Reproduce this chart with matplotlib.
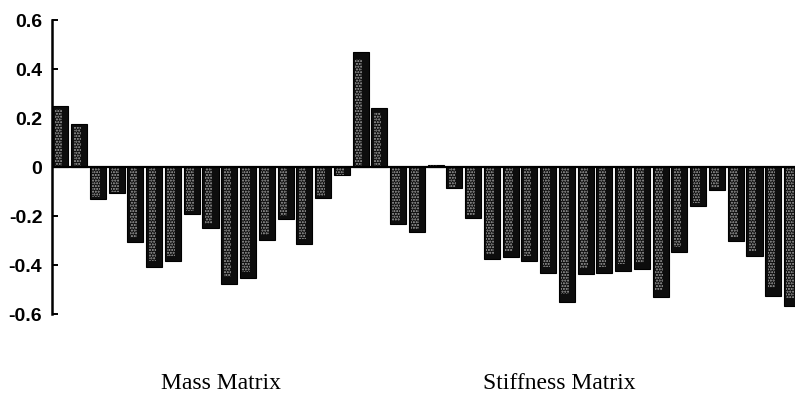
import matplotlib
matplotlib.use("Agg")
import matplotlib.pyplot as plt
import matplotlib.transforms as mtransforms
import numpy as np

# Coefficients for each matrix group
mass_values = [0.25, 0.175, -0.13, -0.107, -0.307, -0.407, -0.385, -0.192,
               -0.249, -0.478, -0.454, -0.297, -0.212, -0.314, -0.128, -0.033]
stiffness_values = [0.468, 0.24, -0.233, -0.267, 0.008, -0.086, -0.21, -0.376,
                    -0.366, -0.385, -0.434, -0.55, -0.437, -0.433, -0.423, -0.416,
                    -0.532, -0.346, -0.158, -0.093, -0.303, -0.365, -0.525, -0.569]
group_labels = ["Mass Matrix", "Stiffness Matrix"]
y_ticks = [0.6, 0.4, 0.2, 0.0, -0.2, -0.4, -0.6]
y_tick_labels = ["0.6", "0.4", "0.2", "0", "-0.2", "-0.4", "-0.6"]

values = np.array(mass_values + stiffness_values)
x = np.arange(len(values))

fig = plt.figure(figsize=(7.95, 3.94), dpi=100)
ax = fig.add_axes([0.0654, 0.203, 1.0 - 0.0654, 0.9492 - 0.203])

width = 0.855
# dark bars with a lighter stippled stripe inside
ax.bar(x, values, width=width, color="#0d0d0d", edgecolor="#000000",
       linewidth=0.8, zorder=2)
ax.bar(x - 0.1, values * 0.94, width=0.4, color="none", edgecolor="#a8a8a8",
       hatch="......", linewidth=0, zorder=3)

ax.axhline(0, color="black", linewidth=1.6, zorder=4)

ax.set_xlim(-0.45, 39.16)
ax.set_ylim(-0.6, 0.6)
ax.set_xticks([])
ax.set_yticks(y_ticks)
ax.set_yticklabels(y_tick_labels, fontfamily="Liberation Sans",
                   fontweight="bold", fontsize=14)
ax.tick_params(axis="y", direction="in", length=4, width=1.4, pad=7)

for side in ["top", "right", "bottom"]:
    ax.spines[side].set_visible(False)
ax.spines["left"].set_linewidth(1.8)

# group captions below the plot
trans = mtransforms.blended_transform_factory(ax.transData, fig.transFigure)
n_mass = len(mass_values)
label_x = [(n_mass - 1) / 2 + 1.05, n_mass + (len(stiffness_values) - 1) / 2 - 0.9]
for lx, text in zip(label_x, group_labels):
    ax.text(lx, 0.012, text, transform=trans, ha="center", va="baseline",
            fontfamily="Liberation Serif", fontsize=17, clip_on=False)

fig.savefig("out.png", dpi=100)
